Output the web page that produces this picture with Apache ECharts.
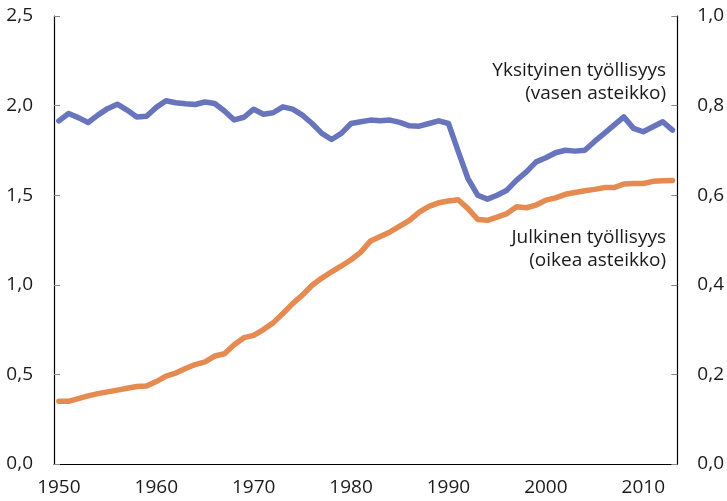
<!DOCTYPE html>
<html>
<head>
<meta charset="utf-8">
<script src="https://cdn.jsdelivr.net/npm/echarts@6/dist/echarts.min.js"></script>
<style>
  html, body { margin: 0; padding: 0; background: #fff; }
  #chart { width: 727px; height: 501px; }
</style>
</head>
<body>
<div id="chart"></div>
<script>
// vuodet 1950-2013
var years = [];
for (var y = 1950; y <= 2013; y++) years.push(String(y));

// yksityinen työllisyys, vasen asteikko
var yksityinen = [
  1.915, 1.956, 1.933, 1.906, 1.947, 1.983, 2.008, 1.975, 1.937, 1.941,
  1.99, 2.027, 2.016, 2.01, 2.006, 2.02, 2.012, 1.97, 1.92, 1.935,
  1.98, 1.952, 1.96, 1.993, 1.98, 1.947, 1.9, 1.845, 1.811, 1.845,
  1.9, 1.91, 1.919, 1.915, 1.919, 1.906, 1.887, 1.885, 1.9, 1.915,
  1.9, 1.745, 1.593, 1.5, 1.478, 1.5, 1.528, 1.584, 1.63, 1.686,
  1.709, 1.737, 1.751, 1.746, 1.751, 1.8, 1.845, 1.891, 1.937, 1.873,
  1.854, 1.882, 1.91, 1.863
];

// julkinen työllisyys, oikea asteikko
var julkinen = [
  0.140, 0.140, 0.146, 0.152, 0.157, 0.161, 0.165, 0.169, 0.173, 0.174,
  0.184, 0.196, 0.203, 0.213, 0.222, 0.228, 0.241, 0.246, 0.266, 0.282,
  0.287, 0.300, 0.315, 0.336, 0.358, 0.377, 0.399, 0.415, 0.429, 0.442,
  0.456, 0.473, 0.498, 0.508, 0.518, 0.531, 0.544, 0.562, 0.575, 0.583,
  0.587, 0.590, 0.570, 0.546, 0.544, 0.551, 0.559, 0.574, 0.572, 0.578,
  0.589, 0.594, 0.602, 0.606, 0.610, 0.613, 0.617, 0.617, 0.625, 0.626,
  0.626, 0.631, 0.632, 0.633
];

var font = '"Open Sans", sans-serif';
var txt = '#1a1a1a';
var fs = 19;

function fmt(v) {
  return v.toFixed(1).replace('.', ',');
}

var chart = echarts.init(document.getElementById('chart'));

var option = {
  animation: false,
  grid: { left: 54, right: 49, top: 16, bottom: 37 },
  xAxis: {
    type: 'category',
    data: years,
    boundaryGap: true,
    axisLine: { lineStyle: { color: '#000', width: 1.2 } },
    axisTick: { inside: true, length: 6, interval: 4, lineStyle: { color: '#888' } },
    axisLabel: {
      interval: 9,
      margin: 14,
      color: txt,
      fontSize: fs,
      fontFamily: font
    },
    splitLine: { show: false }
  },
  yAxis: [
    {
      type: 'value',
      min: 0,
      max: 2.5,
      interval: 0.5,
      axisLine: { show: true, lineStyle: { color: '#000', width: 1.2 } },
      axisTick: { show: true, inside: true, length: 6, lineStyle: { color: '#888' } },
      axisLabel: { margin: 21, color: txt, fontSize: fs, fontFamily: font, formatter: fmt },
      splitLine: { show: false }
    },
    {
      type: 'value',
      min: 0,
      max: 1,
      interval: 0.2,
      axisLine: { show: true, lineStyle: { color: '#000', width: 1.2 } },
      axisTick: { show: true, inside: true, length: 6, lineStyle: { color: '#888' } },
      axisLabel: { margin: 20, color: txt, fontSize: fs, fontFamily: font, formatter: fmt },
      splitLine: { show: false }
    }
  ],
  series: [
    {
      name: 'Yksityinen työllisyys',
      type: 'line',
      yAxisIndex: 0,
      data: yksityinen,
      showSymbol: false,
      lineStyle: { color: '#6875bd', width: 5.5, cap: 'round', join: 'round' }
    },
    {
      name: 'Julkinen työllisyys',
      type: 'line',
      yAxisIndex: 1,
      data: julkinen,
      showSymbol: false,
      lineStyle: { color: '#e58b52', width: 5.5, cap: 'round', join: 'round' }
    }
  ],
  graphic: [
    {
      type: 'text',
      style: {
        text: 'Yksityinen työllisyys\n(vasen asteikko)',
        x: 666,
        y: 82,
        align: 'right',
        verticalAlign: 'middle',
        lineHeight: 23.5,
        fill: txt,
        fontSize: fs,
        fontFamily: font
      }
    },
    {
      type: 'text',
      style: {
        text: 'Julkinen työllisyys\n(oikea asteikko)',
        x: 666,
        y: 249,
        align: 'right',
        verticalAlign: 'middle',
        lineHeight: 23.5,
        fill: txt,
        fontSize: fs,
        fontFamily: font
      }
    }
  ]
};

chart.setOption(option);
</script>
</body>
</html>
